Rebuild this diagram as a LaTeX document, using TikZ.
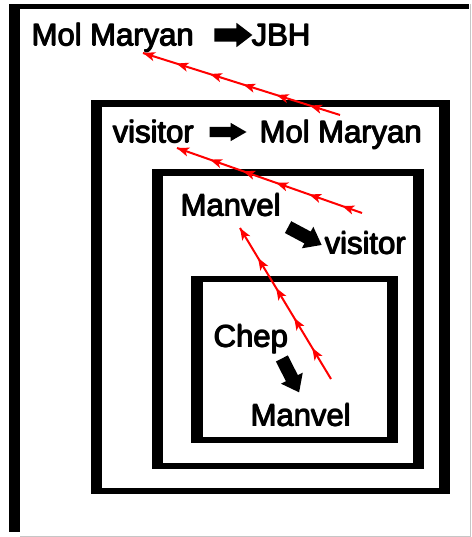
\documentclass[tikz,border=0pt]{standalone}
\usepackage{fontspec}
\setmainfont{Liberation Sans}
\usetikzlibrary{arrows.meta,shapes.arrows,decorations.markings}

% heavier strokes for the labels
\newcommand{\heavy}[1]{\rlap{#1}\rlap{\kern1.2pt#1}%
  \rlap{\kern0.6pt\raisebox{0.6pt}{#1}}\rlap{\kern0.6pt\raisebox{-0.6pt}{#1}}%
  \hphantom{#1}\kern1.2pt}

\tikzset{
  lab/.style={anchor=base west, inner sep=0pt, font=\fontsize{31}{36}\selectfont},
  blk/.style={single arrow, fill=black, inner sep=6.5pt, minimum height=38pt,
    minimum width=24pt, single arrow head extend=5.5pt, single arrow tip angle=75},
  redline/.style={red, line width=2pt, postaction={decorate},
    decoration={markings, mark=between positions 0 and 0.95 step 35pt
      with {\arrowreversed{Stealth[length=12pt,width=9pt,inset=3pt]}}}}
}

\begin{document}
\begin{tikzpicture}[x=1pt,y=-1pt]
\useasboundingbox (0,0) rectangle (471,537);

% outer frame
\fill (9,4) rectangle (20,532);
\fill (9,4) rectangle (469,9);
\draw[gray!45, line width=1pt] (470,4) -- (470,536) -- (20,536);

% nested frames
\fill (91,100) rectangle (450,494);
\fill[white] (102,107) rectangle (439,488);
\fill (152,169) rectangle (424,469);
\fill[white] (163,176) rectangle (413,463);
\fill (191,276) rectangle (398,443);
\fill[white] (203,282) rectangle (387,437);

\node[lab] (mm1) at (31,46) {\heavy{Mol Maryan}};
\node[blk] (a1) at (229,35) {};
\node[lab] (jbh) at (251,46) {\heavy{JBH}};

\node[lab] (vis1) at (112,143) {\heavy{visitor}};
\node[blk, inner sep=5pt, minimum height=37pt, minimum width=18pt,
  single arrow head extend=4pt, single arrow tip angle=60] (a2) at (223.5,132) {};
\node[lab] (mm2) at (259,143) {\heavy{Mol Maryan}};

\node[lab] (man1) at (180,216) {\heavy{Manvel}};
\node[blk, rotate=-28] (a3) at (301,234) {};
\node[lab] (vis2) at (324,254) {\heavy{visitor}};

\node[lab] (chep) at (213,347) {\heavy{Chep}};
\node[blk, rotate=-63] (a4) at (288.5,371.5) {};
\node[lab] (man2) at (250,426) {\heavy{Manvel}};

% red links
\coordinate (r1a) at (143,53);
\coordinate (r1b) at (340,115);
\draw[redline] (r1a) -- (r1b);
\coordinate (r2a) at (177,148);
\coordinate (r2b) at (362,213);
\draw[redline] (r2a) -- (r2b);
\coordinate (r3a) at (240,228);
\coordinate (r3b) at (331,379);
\draw[redline] (r3a) -- (r3b);
\end{tikzpicture}
\end{document}
